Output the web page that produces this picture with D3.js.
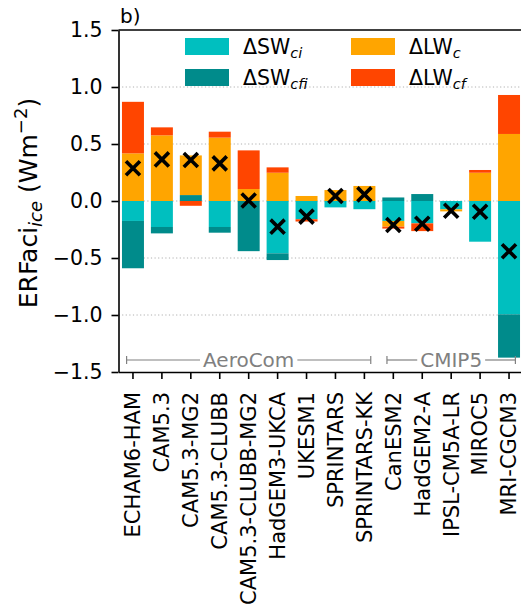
<!DOCTYPE html>
<html>
<head>
<meta charset="utf-8">
<script src="https://cdn.jsdelivr.net/npm/d3@7"></script>
<style>
  html, body { margin: 0; padding: 0; background: #fff; }
  svg { display: block; font-family: "DejaVu Sans", sans-serif; }
</style>
</head>
<body>
<svg id="chart" width="521" height="605"></svg>
<script>
// ---------- data ----------
const models = ["ECHAM6-HAM", "CAM5.3", "CAM5.3-MG2", "CAM5.3-CLUBB", "CAM5.3-CLUBB-MG2",
  "HadGEM3-UKCA", "UKESM1", "SPRINTARS", "SPRINTARS-KK", "CanESM2", "HadGEM2-A",
  "IPSL-CM5A-LR", "MIROC5", "MRI-CGCM3"];
const SWci  = [-0.175, -0.228, 0.0,   -0.228, 0.0,   -0.459, -0.160, -0.056, -0.072, -0.175, -0.196, -0.073, -0.357, -0.994];
const SWcfi = [-0.415, -0.056, 0.052, -0.050, -0.440, -0.059, 0.0,    0.0,    0.0,    0.031,  0.061,  0.0,    0.0,    -0.380];
const LWc   = [0.418,  0.576,  0.348, 0.556,  0.105,  0.248,  0.044,  0.096,  0.132,  -0.050, 0.0,    -0.018, 0.248,  0.588];
const LWcf  = [0.452,  0.070,  -0.042, 0.052, 0.339,  0.047,  -0.020, 0.0,    0.0,    -0.017, -0.068, 0.0,    0.024,  0.342];
const net   = [0.287,  0.365,  0.360, 0.330,  0.005,  -0.225, -0.137, 0.044,  0.058,  -0.210, -0.200, -0.085, -0.094, -0.440];
const yTicks = [-1.5, -1.0, -0.5, 0.0, 0.5, 1.0, 1.5];
const gridTicks = [-1.0, -0.5, 0.0, 0.5, 1.0];
const seriesKeys = ["SWci", "SWcfi", "LWc", "LWcf"];
const seriesColors = ["#00bfbf", "#008b8b", "#ffa500", "#ff4500"];
const legendMain = ["ΔSW", "ΔSW", "ΔLW", "ΔLW"];
const legendSub = ["ci", "cfi", "c", "cf"];
const groups = [{name: "AeroCom", from: 0, to: 8}, {name: "CMIP5", from: 9, to: 13}];

// ---------- layout ----------
const svg = d3.select("#chart");
const L = 118.5, R = 523.5, T = 30, B = 372;
const x = d3.scaleBand().domain(models).range([L, R]).paddingInner(0.24).paddingOuter(0.12);
const y = d3.scaleLinear().domain([-1.5, 1.5]).range([B, T]);
const step = x.step();

const table = models.map((m, i) => ({model: m, SWci: SWci[i], SWcfi: SWcfi[i], LWc: LWc[i], LWcf: LWcf[i]}));
const stacked = d3.stack().keys(seriesKeys).offset(d3.stackOffsetDiverging)(table);

// gridlines
svg.append("g").selectAll("line").data(gridTicks).join("line")
  .attr("x1", L).attr("x2", R)
  .attr("y1", d => y(d)).attr("y2", d => y(d))
  .attr("stroke", "#b0b0b0").attr("stroke-width", 1)
  .attr("stroke-dasharray", "1.2,2.4");

// bars
svg.append("g").selectAll("g").data(stacked).join("g")
  .attr("fill", (d, i) => seriesColors[i])
  .selectAll("rect").data(d => d).join("rect")
  .attr("x", d => x(d.data.model))
  .attr("width", x.bandwidth())
  .attr("y", d => y(Math.max(d[0], d[1])))
  .attr("height", d => Math.abs(y(d[0]) - y(d[1])));

// net markers
svg.append("g").selectAll("path").data(net).join("path")
  .attr("transform", (d, i) => `translate(${x(models[i]) + x.bandwidth() / 2},${y(d)})`)
  .attr("d", d3.symbol().type(d3.symbolX).size(130))
  .attr("fill", "none").attr("stroke", "#000").attr("stroke-width", 3.6);

// axes
const yAxis = svg.append("g").attr("transform", `translate(${L},0)`)
  .call(d3.axisLeft(y).tickValues(yTicks).tickSize(7).tickSizeOuter(0).tickPadding(9).tickFormat(d3.format(".1f")));
yAxis.selectAll("text").attr("font-size", 20.5).attr("fill", "#000").attr("font-family", "DejaVu Sans");
yAxis.selectAll("line, path").attr("stroke", "#000").attr("stroke-width", 1.6);

const xAxis = svg.append("g").attr("transform", `translate(0,${B})`)
  .call(d3.axisBottom(x).tickSize(7).tickSizeOuter(0));
xAxis.selectAll("line, path").attr("stroke", "#000").attr("stroke-width", 1.6);
xAxis.selectAll("text")
  .attr("font-size", 21).attr("fill", "#000").attr("font-family", "DejaVu Sans")
  .attr("transform", "rotate(-90)")
  .attr("text-anchor", "end")
  .attr("x", -20).attr("y", 0).attr("dy", "0.35em");

// top & right spines
svg.append("line").attr("x1", L).attr("x2", R).attr("y1", T).attr("y2", T)
  .attr("stroke", "#000").attr("stroke-width", 1.6);
svg.append("line").attr("x1", R).attr("x2", R).attr("y1", T).attr("y2", B)
  .attr("stroke", "#000").attr("stroke-width", 1.6);

// panel label
svg.append("text").attr("x", 120).attr("y", 23).attr("font-size", 20).text("b)");

// y label
const yl = svg.append("text")
  .attr("transform", `translate(37,${(T + B) / 2 + 2}) rotate(-90)`)
  .attr("text-anchor", "middle").attr("font-size", 25);
yl.append("tspan").text("ERFaci");
yl.append("tspan").attr("font-size", 18).attr("font-style", "italic").attr("dy", 5).text("ice");
yl.append("tspan").attr("dy", -5).text(" (Wm");
yl.append("tspan").attr("font-size", 18).attr("dy", -10).text("−2");
yl.append("tspan").attr("dy", 10).text(")");

// legend
const legPos = [[185, 38], [185, 69], [351, 38], [351, 69]];
const leg = svg.append("g");
seriesKeys.forEach((k, i) => {
  const [lx, ly] = legPos[i];
  leg.append("rect").attr("x", lx).attr("y", ly).attr("width", 44).attr("height", 17).attr("fill", seriesColors[i]);
  const t = leg.append("text").attr("x", lx + 58).attr("y", ly + 16).attr("font-size", 20.5);
  t.append("tspan").text(legendMain[i]);
  t.append("tspan").attr("font-size", 14.5).attr("font-style", "italic").attr("dy", 4).text(legendSub[i]);
});

// group brackets
const gy = 360;
groups.forEach(g => {
  const x0 = x(models[g.from]) + x.bandwidth() / 2 - 0.22 * step;
  const x1 = x(models[g.to]) + x.bandwidth() / 2 + 0.22 * step;
  const cx = (x0 + x1) / 2;
  const t = svg.append("text").attr("x", cx).attr("y", gy + 7).attr("text-anchor", "middle")
    .attr("font-size", 20).attr("fill", "#808080").text(g.name);
  const w = t.node().getComputedTextLength();
  const gap = 3;
  const gg = svg.append("g").attr("stroke", "#808080").attr("stroke-width", 1.2);
  gg.append("line").attr("x1", x0).attr("x2", cx - w / 2 - gap).attr("y1", gy).attr("y2", gy);
  gg.append("line").attr("x1", cx + w / 2 + gap).attr("x2", x1).attr("y1", gy).attr("y2", gy);
  gg.append("line").attr("x1", x0).attr("x2", x0).attr("y1", gy - 4).attr("y2", gy + 4);
  gg.append("line").attr("x1", x1).attr("x2", x1).attr("y1", gy - 4).attr("y2", gy + 4);
});
</script>
</body>
</html>
